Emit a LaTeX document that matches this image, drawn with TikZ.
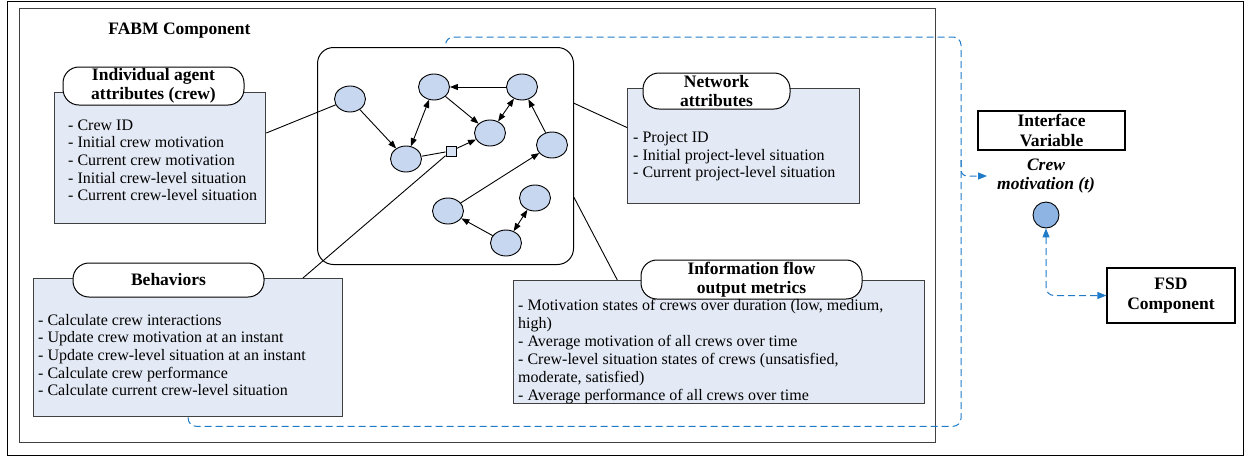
\documentclass[tikz,border=0pt]{standalone}
\usepackage{fontspec}
\setmainfont{Liberation Serif}
\usetikzlibrary{arrows.meta,shapes.geometric,calc}
\definecolor{boxfill}{HTML}{E4EAF5}
\definecolor{boxgray}{HTML}{404040}
\definecolor{agentfill}{HTML}{C6D7EF}
\definecolor{circfill}{HTML}{8EB4E3}
\definecolor{dashblue}{HTML}{1F7BC8}
\newcommand\lfnt{\fontsize{16}{17.6}\selectfont}
\newcommand\tfnt{\bfseries\fontsize{17.5}{19.5}\selectfont}
\begin{document}
\begin{tikzpicture}[x=1pt,y=-1pt,
  frame/.style={draw=black, line width=1.2pt, anchor=north west, inner sep=0},
  innerframe/.style={draw=boxgray, line width=1.2pt, anchor=north west, inner sep=0},
  listbox/.style={draw=boxgray, fill=boxfill, line width=1.3pt, anchor=north west, inner sep=0},
  pill/.style={draw=black, fill=white, line width=1pt, rounded corners=16pt, inner sep=0, align=center, font=\tfnt},
  plainbox/.style={draw=black, fill=white, line width=1.2pt, inner sep=0, align=center, font=\tfnt},
  listtext/.style={anchor=north west, inner sep=0, align=left, font=\lfnt},
  agent/.style={ellipse, draw=black, fill=agentfill, line width=0.9pt, minimum width=31pt, minimum height=26pt, inner sep=0},
  conn/.style={draw=black, line width=0.9pt},
  arr/.style={conn, -{Triangle[length=8pt,width=6pt]}},
  darr/.style={conn, {Triangle[length=8pt,width=6pt]}-{Triangle[length=8pt,width=6pt]}},
  dashline/.style={draw=dashblue, line width=1pt, dash pattern=on 7pt off 4pt},
  barr/.style={-{Triangle[length=9pt,width=7pt]}},
  bdarr/.style={{Triangle[length=9pt,width=7pt]}-{Triangle[length=9pt,width=7pt]}}
]
\useasboundingbox (0,0) rectangle (1245,456);

% frames
\node[frame, minimum width=1236pt, minimum height=454pt] (outer) at (7,1) {};
\node[innerframe, minimum width=916pt, minimum height=434pt] (fabm) at (19,8) {};
\node[font=\tfnt, anchor=center] (fabmlabel) at (179.5,31) {FABM Component};

% network container
\node[draw=black, line width=1pt, rounded corners=16pt, anchor=north west, inner sep=0,
      minimum width=256pt, minimum height=217pt] (net) at (317,47) {};

% agents
\node[agent] (A) at (350,99) {};
\node[agent] (B) at (434,87) {};
\node[agent] (C) at (522,87) {};
\node[agent] (D) at (490,133) {};
\node[agent] (E) at (406,159) {};
\node[agent] (F) at (552,145) {};
\node[agent] (G) at (535,198) {};
\node[agent] (H) at (448,211) {};
\node[agent] (I) at (506,243) {};
\node[draw=black, fill=agentfill!70!white, line width=0.8pt, minimum size=10pt, inner sep=0] (sq) at (451,151) {};

\draw[arr] (A) -- (E);
\draw[darr] (E) -- (B);
\draw[arr] (B) -- (D);
\draw[arr] (C) -- (B);
\draw[darr] (D) -- (C);
\draw[conn] (E) -- (sq);
\draw[arr] (sq) -- (D);
\draw[arr] (F) -- (C);
\draw[arr] (H) -- (F);
\draw[arr] (I) -- (H);
\draw[darr] (I) -- (G);

% Individual agent attributes
\node[listbox, minimum width=211pt, minimum height=131pt] (indiv) at (54,92) {};
\node[pill, minimum width=181pt, minimum height=38pt] (indivt) at (153.5,86) {Individual agent\\attributes (crew)};
\node[listtext] (indivl) at (68,119.5) {- Crew ID\\- Initial crew motivation\\- Current crew motivation\\- Initial crew-level situation\\- Current crew-level situation};

% Network attributes
\node[listbox, minimum width=232pt, minimum height=115pt] (netattr) at (627,88) {};
\node[pill, minimum width=147pt, minimum height=36pt] (netattrt) at (716.5,91) {Network\\attributes};
\node[listtext] (netattrl) at (633,132) {- Project ID\\- Initial project-level situation\\- Current project-level situation};

% Behaviors
\node[listbox, minimum width=309pt, minimum height=138pt] (beh) at (33,278) {};
\node[pill, minimum width=191pt, minimum height=34pt] (beht) at (168.5,280) {Behaviors};
\node[listtext] (behl) at (38,314) {- Calculate crew interactions\\- Update crew motivation at an instant\\- Update crew-level situation at an instant\\- Calculate crew performance\\- Calculate current crew-level situation};

% Information flow output metrics
\node[listbox, minimum width=411pt, minimum height=123pt] (info) at (513,280) {};
\node[pill, minimum width=221pt, minimum height=39pt] (infot) at (751.5,279.5) {Information flow\\output metrics};
\node[listtext, font=\fontsize{16}{18}\selectfont] (infol) at (518,299) {- Motivation states of crews over duration (low, medium,\\high)\\- Average motivation of all crews over time\\- Crew-level situation states of crews (unsatisfied,\\moderate, satisfied)\\- Average performance of all crews over time};

% connectors from network to boxes
\draw[conn] (A) -- ($(indiv.north east)!0.31!(indiv.south east)$);
\draw[conn] ($(net.north east)!0.258!(net.south east)$) -- ($(netattr.north west)!0.34!(netattr.south west)$);
\draw[conn] (sq) -- ($(beh.north west)!0.87!(beh.north east)$);
\draw[conn] ($(net.north east)!0.69!(net.south east)$) -- ($(info.north west)!0.253!(info.north east)$);

% right side
\node[plainbox, minimum width=147pt, minimum height=39pt] (iv) at (1051.5,130.5) {Interface\\Variable};
\node[font=\bfseries\itshape\fontsize{17.5}{19}\selectfont, align=center] (crew) at (1046,176) {Crew\\motivation (t)};
\node[circle, draw=black, fill=circfill, line width=0.9pt, minimum width=25pt, minimum height=26pt, inner sep=0] (circ) at (1046,215) {};
\node[plainbox, minimum width=128pt, minimum height=55pt] (fsd) at (1171,295.5) {FSD\\Component};

% dashed links
\draw[dashline, rounded corners=8pt] (beh.south) -- ++(0,9) -| (961,37) -| (net.north);
\coordinate (branch) at (961,160);
\coordinate (ivin) at (987,176);
\draw[dashline, rounded corners=6pt, barr] (branch) |- (ivin);
\draw[dashline, rounded corners=8pt, bdarr] (circ.south) |- (fsd.west);
\end{tikzpicture}
\end{document}
